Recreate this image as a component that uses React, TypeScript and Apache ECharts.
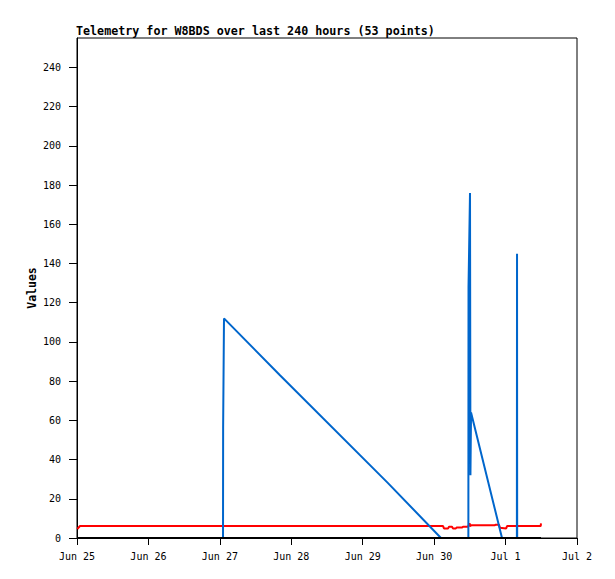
import React, { useEffect, useRef } from "react";
import * as echarts from "echarts";

// x values are hours since Jun 25 00:00
const xTickHours = [0, 24, 48, 72, 96, 120, 144, 168];
const xTickLabels = ["Jun 25", "Jun 26", "Jun 27", "Jun 28", "Jun 29", "Jun 30", "Jul 1", "Jul 2"];
const yTickValues = [0, 20, 40, 60, 80, 100, 120, 140, 160, 180, 200, 220, 240];

const redSeries: [number, number][] = [
  [0.1, 4.6], [0.7, 5.6], [1.0, 6.1], [123.0, 6.1], [123.3, 4.9], [124.7, 4.9],
  [125.0, 5.8], [126.0, 5.8], [126.3, 4.9], [127.3, 4.9], [127.6, 5.4], [129.4, 5.4],
  [129.7, 5.8], [131.4, 5.8], [131.9, 7.5], [132.1, 6.0], [132.4, 6.5], [140.4, 6.5],
  [140.6, 6.8], [141.8, 6.8], [142.1, 5.2], [144.2, 4.9], [144.5, 6.1], [155.8, 6.1],
  [155.9, 7.5],
];

const blueSeries: [number, number][] = [
  [49.06, 0], [49.1, 56], [49.39, 112], [68.2, 83], [104.5, 28], [122.3, 0],
  [131.5, 0], [131.55, 128], [132.05, 176], [132.2, 32], [132.4, 64], [142.8, 0],
  [147.8, 0], [147.85, 145], [147.9, 0], [155.9, 0],
];

const blackSeries: [number, number][] = [
  [0, 0], [155.9, 0],
];

const FONT = "DejaVu Sans Mono";

export default function App() {
  const ref = useRef<HTMLDivElement>(null);
  useEffect(() => {
    document.body.style.margin = "0";
    const chart = echarts.init(ref.current!, null, { renderer: "svg" });
    chart.setOption({
      animation: false,
      backgroundColor: "#fff",
      title: {
        text: "Telemetry for W8BDS over last 240 hours (53 points)",
        left: 76,
        top: 25,
        padding: 0,
        textStyle: { fontFamily: FONT, fontSize: 11.7, fontWeight: "bold", color: "#000" },
      },
      grid: {
        left: 77,
        top: 38,
        width: 500,
        height: 500,
        containLabel: false,
        outerBoundsMode: "none",
        show: true,
        borderColor: "#000",
        borderWidth: 1,
        backgroundColor: "transparent",
      },
      xAxis: {
        type: "value",
        min: 0,
        max: 168,
        interval: 24,
        splitLine: { show: false },
        axisLine: { show: true, lineStyle: { color: "#000", width: 1 } },
        axisTick: { show: true, length: 7, lineStyle: { color: "#000" } },
        axisLabel: {
          margin: 13,
          fontFamily: FONT,
          fontSize: 10,
          color: "#000",
          formatter: (v: number) => {
            const i = xTickHours.indexOf(v);
            return i >= 0 ? xTickLabels[i] : "";
          },
        },
      },
      yAxis: {
        type: "value",
        min: 0,
        max: 255,
        name: "Values",
        nameLocation: "middle",
        nameGap: 39,
        nameMoveOverlap: false,
        nameTextStyle: { fontFamily: FONT, fontSize: 11.5, fontWeight: "bold", color: "#000" },
        splitLine: { show: false },
        axisLine: { show: true, lineStyle: { color: "#000", width: 1 } },
        axisTick: { show: true, length: 8, customValues: yTickValues, lineStyle: { color: "#000" } },
        axisLabel: {
          margin: 16,
          fontFamily: FONT,
          fontSize: 10,
          color: "#000",
          customValues: yTickValues,
        },
      },
      series: [
        {
          type: "line",
          data: redSeries,
          symbol: "none",
          lineStyle: { color: "#ff0000", width: 2 },
          itemStyle: { color: "#ff0000" },
        },
        {
          type: "line",
          data: blueSeries,
          symbol: "none",
          lineStyle: { color: "#0066cc", width: 2 },
          itemStyle: { color: "#0066cc" },
        },
        {
          type: "line",
          data: blackSeries,
          symbol: "none",
          lineStyle: { color: "#000000", width: 2 },
          itemStyle: { color: "#000000" },
        },
      ],
    });
    return () => chart.dispose();
  }, []);
  return <div ref={ref} style={{ position: "fixed", left: 0, top: 0, width: 615, height: 579 }} />;
}
